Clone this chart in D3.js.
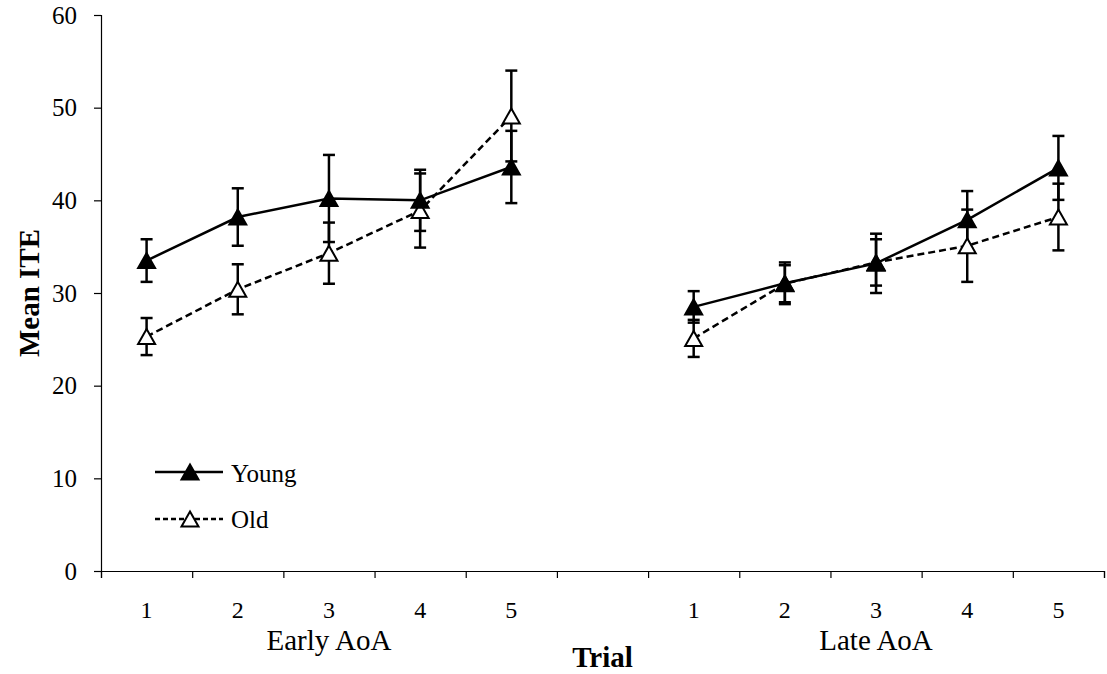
<!DOCTYPE html>
<html>
<head>
<meta charset="utf-8">
<script src="https://cdn.jsdelivr.net/npm/d3@7"></script>
<style>
  body { margin: 0; background: #fff; }
  svg { display: block; }
  text { font-family: "Liberation Serif", "Times New Roman", serif; fill: #000; }
</style>
</head>
<body>
<svg id="chart" width="1107" height="674"></svg>
<script>
// ---- data ----
const trials = ["1", "2", "3", "4", "5"];
const groups = ["Early AoA", "Late AoA"];
const seriesNames = ["Young", "Old"];
const yTicks = [0, 10, 20, 30, 40, 50, 60];

const youngEarly = [33.5, 38.2, 40.2, 40.0, 43.6];
const youngEarlyErr = [2.3, 3.1, 4.7, 3.3, 3.9];
const oldEarly = [25.3, 30.4, 34.3, 38.9, 49.1];
const oldEarlyErr = [2.0, 2.7, 3.3, 4.0, 4.9];

const youngLate = [28.5, 31.05, 33.2, 37.9, 43.5];
const youngLateErr = [1.7, 2.25, 3.2, 3.1, 3.45];
const oldLate = [25.1, 31.0, 33.3, 35.1, 38.2];
const oldLateErr = [2.0, 2.0, 2.5, 3.9, 3.6];

// ---- layout ----
const svg = d3.select("#chart");
const plotLeft = 101, plotRight = 1104, plotTop = 15, plotBottom = 571;

// 11 slots: 5 early, gap, 5 late
const slots = [];
groups.forEach((g, gi) => {
  trials.forEach(t => slots.push(g + "|" + t));
  if (gi < groups.length - 1) slots.push("gap");
});

const x = d3.scaleBand().domain(slots).range([plotLeft, plotRight]).padding(0);
const xb = d3.scaleLinear().domain([0, slots.length]).range([plotLeft, plotRight]);
const y = d3.scaleLinear().domain([0, 60]).range([plotBottom, plotTop]);

// y axis
const yAxis = svg.append("g").attr("transform", `translate(${plotLeft},0)`)
  .call(d3.axisLeft(y).tickValues(yTicks).tickSize(7).tickPadding(17).tickFormat(d3.format("d")));
yAxis.select(".domain").attr("stroke", "#000").attr("stroke-width", 1.2);
yAxis.selectAll(".tick line").attr("stroke", "#000").attr("stroke-width", 1.2);
yAxis.selectAll(".tick text").style("font-size", "25px").style("font-family", "Liberation Serif").attr("fill", "#000");

// x axis (ticks on slot boundaries)
const xAxis = svg.append("g").attr("transform", `translate(0,${plotBottom})`)
  .call(d3.axisBottom(xb).tickValues(d3.range(slots.length + 1)).tickSize(7).tickFormat(""));
xAxis.select(".domain").attr("stroke", "#000").attr("stroke-width", 1.2);
xAxis.selectAll(".tick line").attr("stroke", "#000").attr("stroke-width", 1.2);

// trial labels
svg.append("g").selectAll("text")
  .data(slots.filter(s => s !== "gap"))
  .join("text")
  .attr("x", d => x(d) + x.bandwidth() / 2)
  .attr("y", 618)
  .attr("text-anchor", "middle")
  .style("font-size", "24px")
  .text(d => d.split("|")[1]);

// group labels
svg.append("g").selectAll("text")
  .data(groups)
  .join("text")
  .attr("x", g => x(g + "|" + trials[2]) + x.bandwidth() / 2)
  .attr("y", 650)
  .attr("text-anchor", "middle")
  .style("font-size", "29px")
  .text(g => g);

// axis titles
svg.append("text")
  .attr("x", (plotLeft + plotRight) / 2)
  .attr("y", 667)
  .attr("text-anchor", "middle")
  .style("font-size", "29px")
  .style("font-weight", "bold")
  .text("Trial");

svg.append("text")
  .attr("transform", `translate(39,${y(30)}) rotate(-90)`)
  .attr("text-anchor", "middle")
  .style("font-size", "29px")
  .style("font-weight", "bold")
  .text("Mean ITE");

// ---- series ----
const triW = 17, triH = 15;
const triPath = `M0,${-triH/2}L${triW/2},${triH/2}L${-triW/2},${triH/2}Z`;

function seriesData(group, vals, errs) {
  return trials.map((t, i) => ({ key: group + "|" + t, v: vals[i], e: errs[i] }));
}

const series = [
  { name: "Old", dash: "7,4", fill: "#fff",
    parts: [seriesData(groups[0], oldEarly, oldEarlyErr), seriesData(groups[1], oldLate, oldLateErr)] },
  { name: "Young", dash: null, fill: "#000",
    parts: [seriesData(groups[0], youngEarly, youngEarlyErr), seriesData(groups[1], youngLate, youngLateErr)] }
];

const cx = d => x(d.key) + x.bandwidth() / 2;
const line = d3.line().x(cx).y(d => y(d.v));
const capW = 12;

// error bars first
series.forEach(s => {
  s.parts.forEach(part => {
    const g = svg.append("g");
    g.selectAll("line.v").data(part).join("line")
      .attr("x1", cx).attr("x2", cx)
      .attr("y1", d => y(d.v + d.e)).attr("y2", d => y(d.v - d.e))
      .attr("stroke", "#000").attr("stroke-width", 2.5);
    g.selectAll("line.t").data(part).join("line")
      .attr("x1", d => cx(d) - capW / 2).attr("x2", d => cx(d) + capW / 2)
      .attr("y1", d => y(d.v + d.e)).attr("y2", d => y(d.v + d.e))
      .attr("stroke", "#000").attr("stroke-width", 2.5);
    g.selectAll("line.b").data(part).join("line")
      .attr("x1", d => cx(d) - capW / 2).attr("x2", d => cx(d) + capW / 2)
      .attr("y1", d => y(d.v - d.e)).attr("y2", d => y(d.v - d.e))
      .attr("stroke", "#000").attr("stroke-width", 2.5);
  });
});

// lines + markers
series.forEach(s => {
  s.parts.forEach(part => {
    svg.append("path").datum(part)
      .attr("d", line)
      .attr("fill", "none")
      .attr("stroke", "#000")
      .attr("stroke-width", 2.5)
      .attr("stroke-dasharray", s.dash);
  });
  s.parts.forEach(part => {
    svg.append("g").selectAll("path").data(part).join("path")
      .attr("d", triPath)
      .attr("transform", d => `translate(${cx(d)},${y(d.v)})`)
      .attr("fill", s.fill)
      .attr("stroke", "#000")
      .attr("stroke-width", 2);
  });
});

// ---- legend ----
const legend = svg.append("g");
const legendRows = [
  { name: seriesNames[0], dash: null, fill: "#000", y: 472, ty: 482 },
  { name: seriesNames[1], dash: "5,3", fill: "#fff", y: 519, ty: 528 }
];
legendRows.forEach(r => {
  legend.append("line")
    .attr("x1", 155).attr("x2", 223).attr("y1", r.y).attr("y2", r.y)
    .attr("stroke", "#000").attr("stroke-width", 2.5)
    .attr("stroke-dasharray", r.dash);
  legend.append("path")
    .attr("d", triPath)
    .attr("transform", `translate(190,${r.y})`)
    .attr("fill", r.fill).attr("stroke", "#000").attr("stroke-width", 2);
  legend.append("text")
    .attr("x", 231).attr("y", r.ty)
    .style("font-size", "25px")
    .text(r.name);
});
</script>
</body>
</html>
